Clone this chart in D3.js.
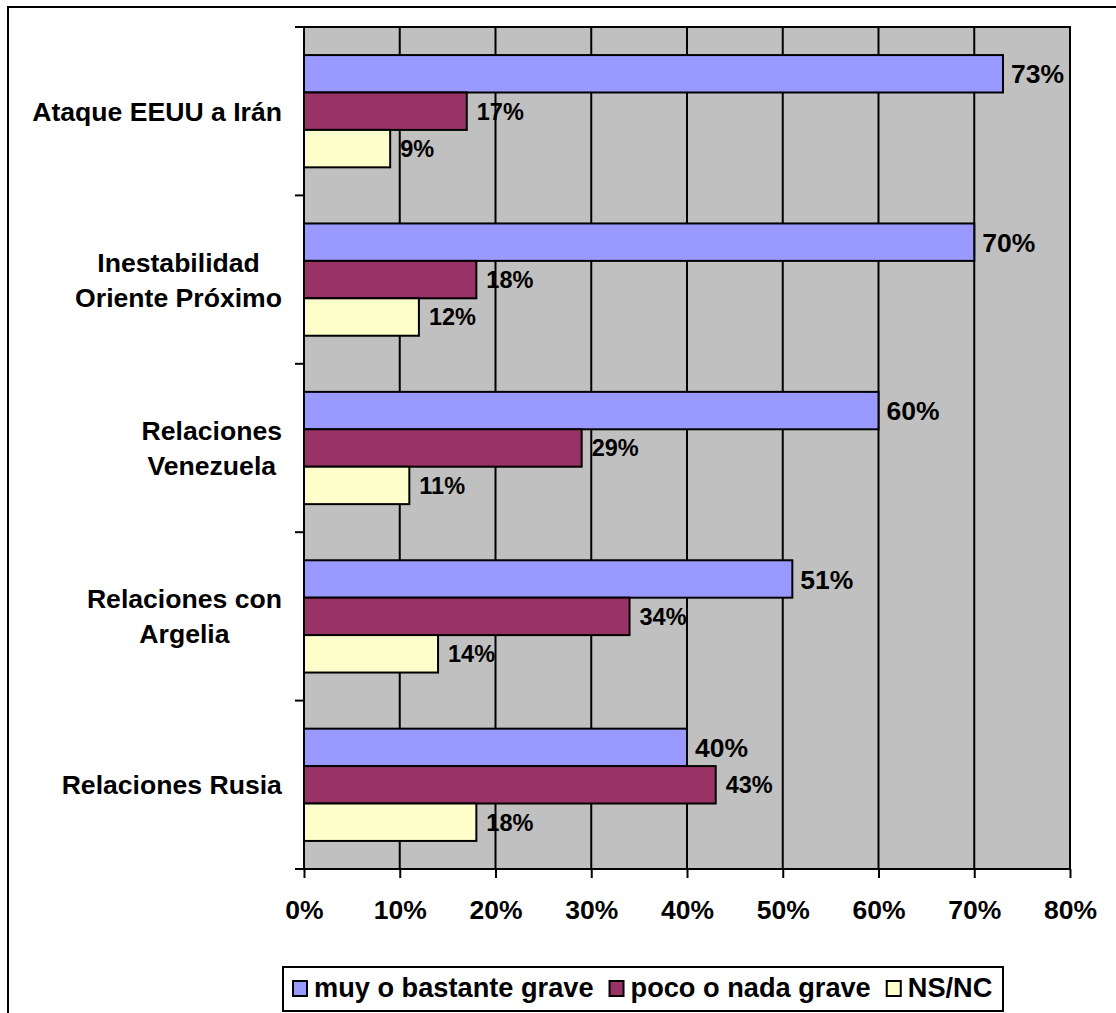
<!DOCTYPE html>
<html>
<head>
<meta charset="utf-8">
<script src="https://cdn.jsdelivr.net/npm/d3@7"></script>
<style>
html,body{margin:0;padding:0;background:#fff;}
svg{display:block;font-family:"Liberation Sans",Arial,sans-serif;font-weight:bold;}
</style>
</head>
<body>
<svg id="chart" width="1116" height="1013"></svg>
<script>
const categories = [
  ["Ataque EEUU a Irán"],
  ["Inestabilidad", "Oriente Próximo"],
  ["Relaciones", "Venezuela"],
  ["Relaciones con", "Argelia"],
  ["Relaciones Rusia"]
];
const seriesNames = ["muy o bastante grave", "poco o nada grave", "NS/NC"];
const seriesColors = ["#9999FF", "#993366", "#FFFFCC"];
const muyGrave = [73, 70, 60, 51, 40];
const pocoGrave = [17, 18, 29, 34, 43];
const nsnc = [9, 12, 11, 14, 18];
const xTicks = [0, 10, 20, 30, 40, 50, 60, 70, 80];

const seriesValues = [muyGrave, pocoGrave, nsnc];
const svg = d3.select("#chart");

// outer chart border (only left and top visible)
svg.append("path").attr("d", "M8,1013 V7 H1116").attr("fill", "none").attr("stroke", "#000").attr("stroke-width", 2);

const plot = {left: 304, right: 1070, top: 27, bottom: 869};
const x = d3.scaleLinear().domain([0, 80]).range([plot.left, plot.right]);
const catKeys = categories.map((c, i) => i);
const y0 = d3.scaleBand().domain(catKeys).range([plot.top, plot.bottom]).padding(0);
const y1 = d3.scaleBand().domain([0, 1, 2]).range([0, y0.bandwidth()]).paddingInner(0).paddingOuter(0.75);

// plot background
svg.append("rect").attr("x", plot.left).attr("y", plot.top)
  .attr("width", plot.right - plot.left).attr("height", plot.bottom - plot.top)
  .attr("fill", "#C0C0C0");

// vertical gridlines
svg.append("g").selectAll("line").data(xTicks.slice(1, -1)).join("line")
  .attr("x1", d => x(d)).attr("x2", d => x(d))
  .attr("y1", plot.top).attr("y2", plot.bottom)
  .attr("stroke", "#000").attr("stroke-width", 2);

// plot border
svg.append("rect").attr("x", plot.left).attr("y", plot.top)
  .attr("width", plot.right - plot.left).attr("height", plot.bottom - plot.top)
  .attr("fill", "none").attr("stroke", "#000").attr("stroke-width", 2);

// x axis
const xAxis = d3.axisBottom(x).tickValues(xTicks).tickFormat(d => d + "%").tickSize(9).tickPadding(22);
const gx = svg.append("g").attr("transform", `translate(0,${plot.bottom})`).call(xAxis);
gx.select(".domain").attr("stroke", "#000").attr("stroke-width", 2).attr("d", `M295,0H${plot.right}`);
gx.selectAll(".tick line").attr("stroke", "#000").attr("stroke-width", 2);
gx.selectAll(".tick text").attr("font-size", 26.5).attr("font-weight", "bold").attr("fill", "#000")
  .attr("font-family", '"Liberation Sans",Arial,sans-serif');

// y axis ticks at band boundaries
const yBounds = catKeys.map(k => y0(k)).concat([plot.bottom]);
svg.append("g").selectAll("line").data(yBounds).join("line")
  .attr("x1", 295).attr("x2", plot.left)
  .attr("y1", d => d).attr("y2", d => d)
  .attr("stroke", "#000").attr("stroke-width", 2);

// bars
const groups = svg.append("g").selectAll("g").data(catKeys).join("g")
  .attr("transform", k => `translate(0,${y0(k)})`);

seriesValues.forEach((vals, s) => {
  groups.append("rect")
    .attr("x", x(0))
    .attr("y", y1(s))
    .attr("width", k => x(vals[k]) - x(0))
    .attr("height", y1.bandwidth())
    .attr("fill", seriesColors[s])
    .attr("stroke", "#000").attr("stroke-width", 2);
});
seriesValues.forEach((vals, s) => {
  groups.append("text")
    .attr("x", k => x(vals[k]) + (s === 0 ? 8 : 10))
    .attr("y", y1(s) + y1.bandwidth() / 2)
    .attr("dy", "0.36em")
    .attr("font-size", s === 0 ? 26.5 : 23.5)
    .attr("fill", "#000")
    .text(k => vals[k] + "%");
});

// category labels: lines centered, block right-aligned
const labelRight = 282;
const lineH = 35;
groups.each(function (k) {
  const g = d3.select(this);
  const lines = categories[k];
  const t = g.append("text").attr("font-size", 26.6).attr("fill", "#000").attr("text-anchor", "middle");
  const midY = y0.bandwidth() / 2;
  const n = lines.length;
  lines.forEach((ln, i) => {
    t.append("tspan").attr("x", 0).attr("y", midY + (i - (n - 1) / 2) * lineH).attr("dy", "0.36em").text(ln);
  });
  const w = t.node().getBBox().width;
  t.selectAll("tspan").attr("x", labelRight - w / 2);
});

// legend
const legend = svg.append("g");
legend.append("rect").attr("x", 283).attr("y", 967).attr("width", 720).attr("height", 44)
  .attr("fill", "#fff").attr("stroke", "#000").attr("stroke-width", 2);
let lx = 293;
seriesNames.forEach((name, s) => {
  legend.append("rect").attr("x", lx).attr("y", 981).attr("width", 14).attr("height", 15)
    .attr("fill", seriesColors[s]).attr("stroke", "#000").attr("stroke-width", 2);
  const t = legend.append("text").attr("x", lx + 21).attr("y", 997).attr("font-size", 27.2).attr("fill", "#000").text(name);
  lx += 21 + t.node().getComputedTextLength() + 16;
});
</script>
</body>
</html>
